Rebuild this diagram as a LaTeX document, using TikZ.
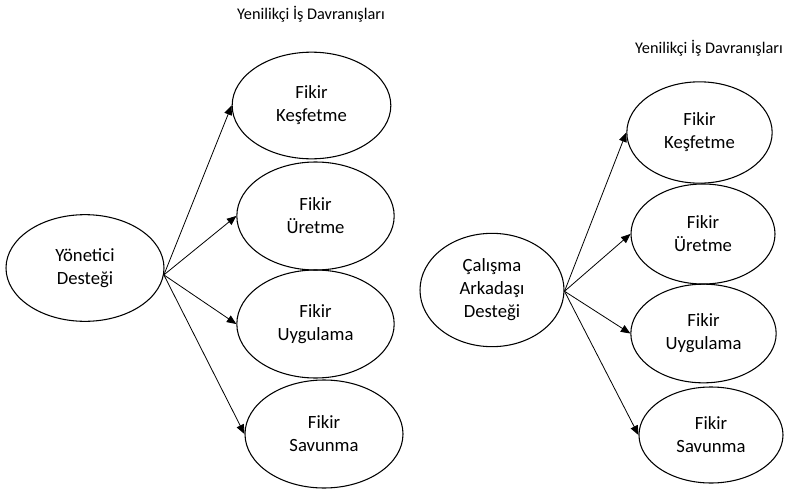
\documentclass[tikz,border=0pt]{standalone}
\usepackage{fontspec}
\setmainfont{Carlito}
\usepackage{tikz}
\tikzset{>=latex}
\usetikzlibrary{shapes.geometric,arrows}

\tikzset{
	kavram/.style={ellipse,draw,line width=0.8pt,inner sep=0pt,align=center,
		font=\fontsize{14}{17.25}\selectfont},
	baslik/.style={font=\fontsize{12.2}{15}\selectfont},
	ok/.style={->,>=triangle 45,line width=0.6pt}
}

\begin{document}
\begin{tikzpicture}[line cap=round,line join=round,x=0.75pt,y=-0.75pt]
	\useasboundingbox (0,0) rectangle (793,489);
	% sol model
	\node[baslik] (baslikA) at (311,14) {Yenilikçi İş Davranışları};
	\node[kavram,minimum width=118.5pt,minimum height=80pt] (yon) at (85,268) {Yönetici\\Desteği};
	\node[kavram,minimum width=119pt,minimum height=80pt] (kesA) at (311.5,105.5) {Fikir\\Keşfetme};
	\node[kavram,minimum width=118pt,minimum height=81pt] (uretA) at (315.5,216) {Fikir\\Üretme};
	\node[kavram,minimum width=118pt,minimum height=81pt] (uygA) at (315.5,324) {Fikir\\Uygulama};
	\node[kavram,minimum width=118.5pt,minimum height=81pt] (savA) at (324,434) {Fikir\\Savunma};
	\foreach \h in {kesA,uretA,uygA,savA}
	\draw[ok] (yon.-5) -- (\h.west);
	% sag model
	\node[baslik] (baslikB) at (709,48) {Yenilikçi İş Davranışları};
	\node[kavram,minimum width=108pt,minimum height=85pt] (cal) at (492,290) {Çalışma\\Arkadaşı\\Desteği};
	\node[kavram,minimum width=109pt,minimum height=76pt] (kesB) at (699.5,132.5) {Fikir\\Keşfetme};
	\node[kavram,minimum width=108pt,minimum height=75pt] (uretB) at (703,234) {Fikir\\Üretme};
	\node[kavram,minimum width=109pt,minimum height=74pt] (uygB) at (703.5,333.5) {Fikir\\Uygulama};
	\node[kavram,minimum width=108pt,minimum height=72pt] (savB) at (711,435) {Fikir\\Savunma};
	\foreach \h in {kesB,uretB,uygB,savB}
	\draw[ok] (cal.-1) -- (\h.west);
\end{tikzpicture}
\end{document}
